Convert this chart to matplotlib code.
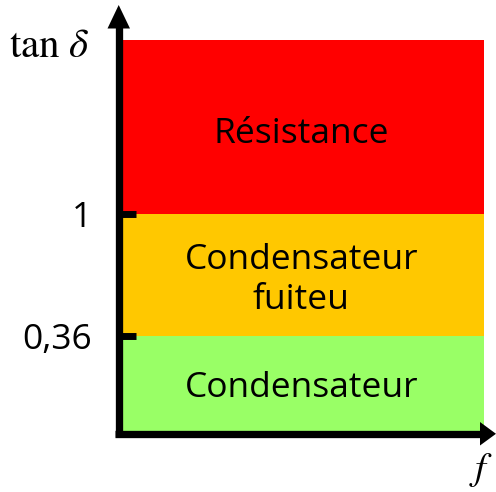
import numpy as np
import matplotlib
matplotlib.use("Agg")
import matplotlib.pyplot as plt
from matplotlib.patches import Polygon

plt.rcParams['mathtext.fontset'] = 'stix'
plt.rcParams['font.family'] = ['Open Sans', 'DejaVu Sans']

# Data
thresholds = [0.0, 0.36, 1.0, 2.0]          # tan delta band limits (top is open-ended)
band_labels = ["Condensateur", "Condensateur\nfuiteu", "Résistance"]
band_colors = ["#99FF66", "#FFC800", "#FF0000"]
tick_values = [0.36, 1.0]
tick_labels = ["0,36", "1"]

# schematic (non-linear) display of the tan delta axis
disp_pos = [0.0, 0.248, 0.558, 1.0]
fwd = lambda v: np.interp(v, thresholds, disp_pos)
inv = lambda p: np.interp(p, disp_pos, thresholds)
label_offsets_px = [-3, -5, -7]

W, H = 496, 492
fig = plt.figure(figsize=(W / 100, H / 100), dpi=100)
ax = fig.add_axes([118.7 / W, (H - 433.8) / H, (484 - 118.7) / W, (433.8 - 40) / H])
ax.set_yscale('function', functions=(fwd, inv))
ax.set_xlim(0, 1)
ax.set_ylim(thresholds[0], thresholds[-1])

for lo, hi, lab, col, off in zip(thresholds[:-1], thresholds[1:], band_labels,
                                 band_colors, label_offsets_px):
    ax.axhspan(lo, hi, color=col, lw=0)
    mid = inv((fwd(lo) + fwd(hi)) / 2)
    ax.annotate(lab, (0.5, mid), xytext=(0, off), textcoords='offset pixels',
                ha='center', va='center', fontsize=25.5, linespacing=1.22,
                color='black')

for s in ax.spines.values():
    s.set_visible(False)
ax.set_xticks([])
ax.set_yticks(tick_values)
ax.set_yticklabels(tick_labels)
ax.yaxis.set_minor_locator(matplotlib.ticker.NullLocator())
ax.tick_params(axis='y', direction='in', length=12.5, width=5, color='black',
               labelsize=25.5, pad=19)

# overlay for the axis arrows (pixel coordinates)
ov = fig.add_axes([0, 0, 1, 1], zorder=5)
ov.set_xlim(0, W)
ov.set_ylim(H, 0)
ov.axis('off')
ov.patch.set_alpha(0)
lw_px = 7.3
ov.plot([118.7, 118.7], [437.4, 27], color='black', lw=lw_px * 0.72,
        solid_capstyle='butt')
ov.plot([115.1, 481], [433.8, 433.8], color='black', lw=lw_px * 0.72,
        solid_capstyle='butt')
ov.add_patch(Polygon([[118.7, 5], [107.5, 28.5], [130, 28.5]], closed=True,
                     color='black', lw=0))
ov.add_patch(Polygon([[496, 433.8], [480, 422], [480, 445.5]], closed=True,
                     color='black', lw=0))

fig.text(90 / W, 1 - 47 / H, r'$\mathrm{tan}\ \delta$', ha='right', va='center',
         fontsize=29.5)
fig.text(481 / W, 1 - 470 / H, r'$f$', ha='center', va='center', fontsize=28)

fig.savefig('out.png', dpi=100)
